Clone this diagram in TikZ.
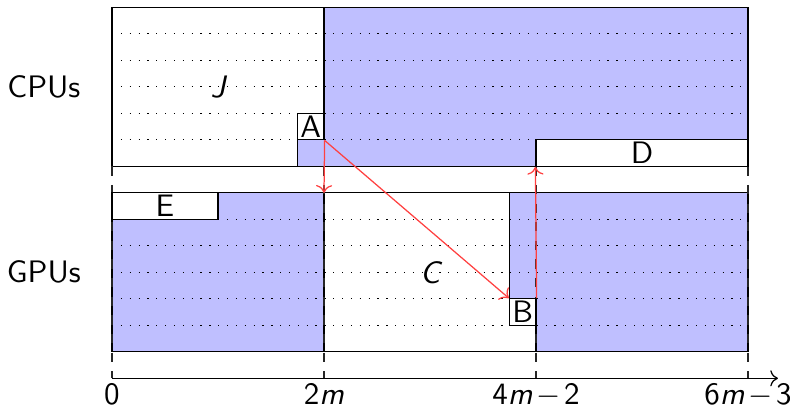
\documentclass[tikz,border=0pt]{standalone}
\usetikzlibrary{arrows.meta}
\begin{document}
\begin{tikzpicture}[x=0.3cm,y=-0.3cm,font=\sffamily,
  busy/.style={fill=blue!25,draw=black,line width=0.4pt},
  task/.style={draw=black,fill=white,inner sep=0pt,minimum height=0.3cm},
  gridline/.style={dash pattern=on 0.4pt off 2.45pt,line width=0.4pt},
  tickline/.style={dashed,black!85,line width=0.4pt},
  msg/.style={->,red!75,line width=0.4pt},
  ticklabel/.style={anchor=base,inner sep=0pt}]
\useasboundingbox (-4.226,-0.275) rectangle (25.585,15.12);
% CPU part
\draw[busy] (8,0) -- (24,0) -- (24,5) -- (16,5) -- (16,6) -- (7,6) -- (7,5) -- (8,5) -- cycle;
\draw (0,0) rectangle (24,6);
% GPU part
\draw[busy] (0,8) -- (4,8) -- (4,7) -- (8,7) -- (8,13) -- (0,13) -- cycle;
\draw[busy] (15,7) -- (24,7) -- (24,13) -- (16,13) -- (16,11) -- (15,11) -- cycle;
\draw (0,7) rectangle (24,13);
% dotted rows
\foreach \y in {1,...,5} \draw[gridline] (0,\y) -- (24,\y);
\foreach \y in {8,...,13} \draw[gridline] (0,\y) -- (24,\y);
% dashed ticks
\foreach \x in {0,8,16,24} \draw[tickline] (\x,6) -- (\x,14);
% tasks
\node[task,minimum width=0.3cm] (A) at (7.5,4.5) {A};
\node[task,minimum width=0.3cm] (B) at (15.5,11.5) {B};
\node[task,minimum width=2.4cm] (D) at (20,5.5) {D};
\node[task,minimum width=1.2cm] (E) at (2,7.5) {E};
\node (J) at (4,3) {\itshape J};
\node (C) at (12,10) {\itshape C};
\node (cpus) at (-2.57,3) {CPUs};
\node (gpus) at (-2.57,10) {GPUs};
% axis
\coordinate (o) at (0,14);
\coordinate (axend) at (25.13,14);
\draw[->] (o) -- (axend);
\node[ticklabel] (t0) at (0,15) {0};
\node[ticklabel] (t1) at (8,15) {2\textit{m}};
\node[ticklabel] (t2) at (16,15) {4\textit{m}\hspace{0.12em}$-$\hspace{0.12em}2};
\node[ticklabel] (t3) at (24,15) {6\textit{m}\hspace{0.12em}$-$\hspace{0.12em}3};
% messages
\coordinate (g8) at (8,7);
\draw[msg] (A.south east) -- (g8);
\draw[msg] (A.south east) -- (B.north west);
\draw[msg] (B.north east) -- (D.south west);
\end{tikzpicture}
\end{document}
